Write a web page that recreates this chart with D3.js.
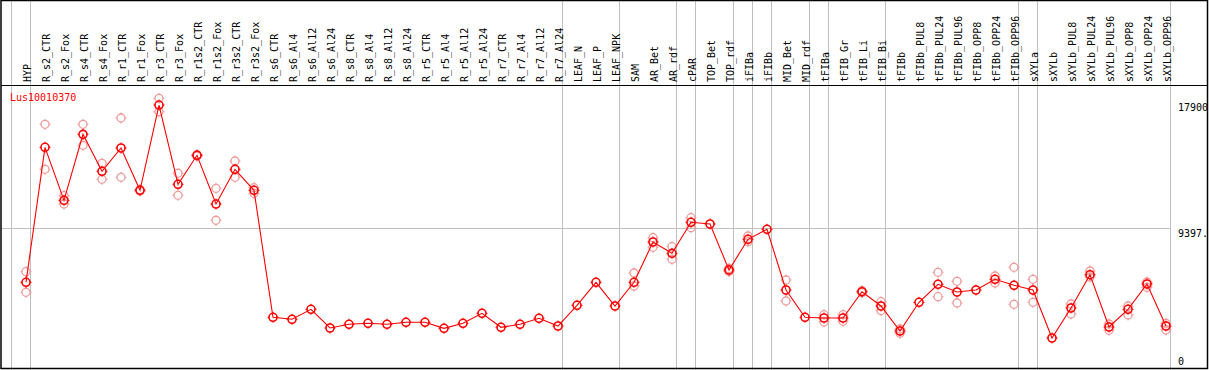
<!DOCTYPE html>
<html>
<head>
<meta charset="utf-8">
<script src="https://cdn.jsdelivr.net/npm/d3@7"></script>
<style>
  html, body { margin: 0; padding: 0; background: #fff; }
  svg { display: block; }
  text { font-family: "DejaVu Sans Mono", monospace; font-size: 10px; }
</style>
</head>
<body>
<svg id="chart" width="1209" height="370"></svg>
<script>
// sample columns, left to right
const samples = [
  'HYP', 'R_s2_CTR', 'R_s2_Fox', 'R_s4_CTR', 'R_s4_Fox', 'R_r1_CTR', 'R_r1_Fox',
  'R_r3_CTR', 'R_r3_Fox', 'R_r1s2_CTR', 'R_r1s2_Fox', 'R_r3s2_CTR', 'R_r3s2_Fox',
  'R_s6_CTR', 'R_s6_Al4', 'R_s6_Al12', 'R_s6_Al24', 'R_s8_CTR', 'R_s8_Al4', 'R_s8_Al12',
  'R_s8_Al24', 'R_r5_CTR', 'R_r5_Al4', 'R_r5_Al12', 'R_r5_Al24', 'R_r7_CTR', 'R_r7_Al4',
  'R_r7_Al12', 'R_r7_Al24', 'LEAF_N', 'LEAF_P', 'LEAF_NPK', 'SAM', 'AR_Bet', 'AR_rdf',
  'cPAR', 'TOP_Bet', 'TOP_rdf', 'iFIBa', 'iFIBb', 'MID_Bet', 'MID_rdf', 'tFIBa',
  'tFIB_Gr', 'tFIB_Li', 'tFIB_Bi', 'tFIBb', 'tFIBb_PUL8', 'tFIBb_PUL24', 'tFIBb_PUL96',
  'tFIBb_OPP8', 'tFIBb_OPP24', 'tFIBb_OPP96', 'sXYLa', 'sXYLb', 'sXYLb_PUL8',
  'sXYLb_PUL24', 'sXYLb_PUL96', 'sXYLb_OPP8', 'sXYLb_OPP24', 'sXYLb_OPP96'
];

// first column of each tissue group (gray separators)
const groupStarts = ['HYP', 'R_s2_CTR', 'LEAF_N', 'SAM', 'cPAR', 'TOP_Bet', 'iFIBa',
  'iFIBb', 'MID_Bet', 'tFIBa', 'tFIB_Gr', 'tFIBb', 'sXYLa', 'sXYLb'];

// mean expression
const meanValues = [
  5730, 14841, 11264, 15718, 13221, 14794, 11939, 17696, 12344, 14301, 11014, 13356, 11939,
  3368, 3233, 3908, 2646, 2895, 2963, 2895, 3030, 3030, 2625, 2963, 3638, 2693, 2895,
  3300, 2781, 4178, 5730, 4130, 5730, 8450, 7687, 9779, 9665, 6560, 8632, 9307, 5210,
  3368, 3320, 3320, 5095, 4130, 2443, 4380, 5595, 5075, 5210, 5932, 5527, 5210, 1971,
  3995, 6243, 2713, 3908, 5615, 2781
];

// replicates (null = single sample)
const rep1 = [
  6445, 16393, 11574, 16393, 13761, 16819, 11990, 18148, 13086, 14350, 12074, 13917, 12115,
  null, null, null, null, null, null, null, null, null, null, null, null, null, null,
  null, null, null, null, null, 6358, 8740, 8133, 10090, null, 6661, 8855, null, 5885,
  null, 3543, 3543, 5163, 4421, 2578, null, 6405, 5797, null, 6155, 6742, 5932, null,
  4265, 6493, 2916, 4130, 5750, 2963
];
const rep2 = [
  5055, 13356, 11014, 14976, 12681, 12816, 11890, 17244, 11601, 14250, 9914, 12816, 11737,
  null, null, null, null, null, null, null, null, null, null, null, null, null, null,
  null, null, null, null, null, 5480, 8092, 7282, 9415, null, 6459, 8470, null, 4468,
  null, 3051, 3098, 5028, 3813, 2288, null, 4758, 4333, null, 5683, 4245, 4380, null,
  3590, 6088, 2490, 3523, 5393, 2511
];

const yTicks = [
  { value: 17900, label: '17900' },
  { value: 9397, label: '9397.' },
  { value: 0, label: '0' }
];

const geneName = 'Lus10010370';

(function() {
  'use strict';

  const svg = d3.select('#chart');
  const W = 1209, H = 370;
  const headerBottom = 85;

  const x = d3.scalePoint()
    .domain(samples)
    .range([26, 1166]);

  const y = d3.scaleLinear()
    .domain([0, 17900])
    .range([367.2, 102]);

  const sepOffset = 15;
  const plotRight = x(samples[samples.length - 1]) + x.step() - sepOffset;

  // gray separators
  const seps = groupStarts.map(s => x(s) - sepOffset).concat([plotRight]);
  svg.append('g')
    .selectAll('line')
    .data(seps)
    .enter()
    .append('line')
    .attr('x1', d => Math.round(d) + 0.5)
    .attr('x2', d => Math.round(d) + 0.5)
    .attr('y1', 0)
    .attr('y2', H)
    .attr('stroke', '#c0c0c0')
    .attr('stroke-width', 1);

  // middle grid line
  svg.append('line')
    .attr('x1', 1)
    .attr('x2', plotRight)
    .attr('y1', Math.round(y(9397)) + 0.5)
    .attr('y2', Math.round(y(9397)) + 0.5)
    .attr('stroke', '#c0c0c0');

  // frame
  svg.append('rect')
    .attr('x', 1)
    .attr('y', 0.5)
    .attr('width', W - 2.5)
    .attr('height', H - 2)
    .attr('fill', 'none')
    .attr('stroke', '#000')
    .attr('stroke-width', 1.5);

  svg.append('line')
    .attr('x1', 1)
    .attr('x2', W - 1)
    .attr('y1', headerBottom + 0.5)
    .attr('y2', headerBottom + 0.5)
    .attr('stroke', '#000');

  // column labels
  svg.append('g')
    .selectAll('text')
    .data(samples)
    .enter()
    .append('text')
    .attr('transform', d => `translate(${x(d) + 5},82) rotate(-90)`)
    .attr('fill', '#000')
    .text(d => d);

  // gene title
  svg.append('text')
    .attr('x', 10)
    .attr('y', 101)
    .attr('fill', '#ff0000')
    .text(geneName);

  // y labels on the right
  svg.append('g')
    .selectAll('text')
    .data(yTicks)
    .enter()
    .append('text')
    .attr('x', plotRight + 8)
    .attr('y', d => d.value === 0 ? y(d.value) - 2 : y(d.value) + 9)
    .attr('fill', '#000')
    .text(d => d.label);

  const r = 4, t = 1.5;

  // small ticks at N/E/S/W of a marker
  function ticks(cx, cy) {
    return `M${cx},${cy - r}V${cy - r - t}M${cx},${cy + r}V${cy + r + t}` +
      `M${cx - r},${cy}H${cx - r - t}M${cx + r},${cy}H${cx + r + t}`;
  }

  function drawMarkers(data, color, sw) {
    const gm = svg.append('g');
    gm.selectAll('circle')
      .data(data)
      .enter()
      .append('circle')
      .attr('cx', d => x(d.s))
      .attr('cy', d => y(d.v))
      .attr('r', r)
      .attr('fill', 'none')
      .attr('stroke', color)
      .attr('stroke-width', sw);
    gm.selectAll('path')
      .data(data)
      .enter()
      .append('path')
      .attr('d', d => ticks(x(d.s), y(d.v)))
      .attr('fill', 'none')
      .attr('stroke', color)
      .attr('stroke-width', 1);
  }

  const reps = [];
  samples.forEach((s, i) => {
    if (rep1[i] != null) reps.push({ s: s, v: rep1[i] });
    if (rep2[i] != null) reps.push({ s: s, v: rep2[i] });
  });

  drawMarkers(reps, '#f09a9a', 1.3);

  const pts = samples.map((s, i) => ({ s: s, v: meanValues[i] }));

  svg.append('path')
    .datum(pts)
    .attr('d', d3.line().x(d => x(d.s)).y(d => y(d.v)))
    .attr('fill', 'none')
    .attr('stroke', '#ff0000')
    .attr('stroke-width', 1.1);

  drawMarkers(pts, '#ff0000', 1.6);
})();
</script>
</body>
</html>
